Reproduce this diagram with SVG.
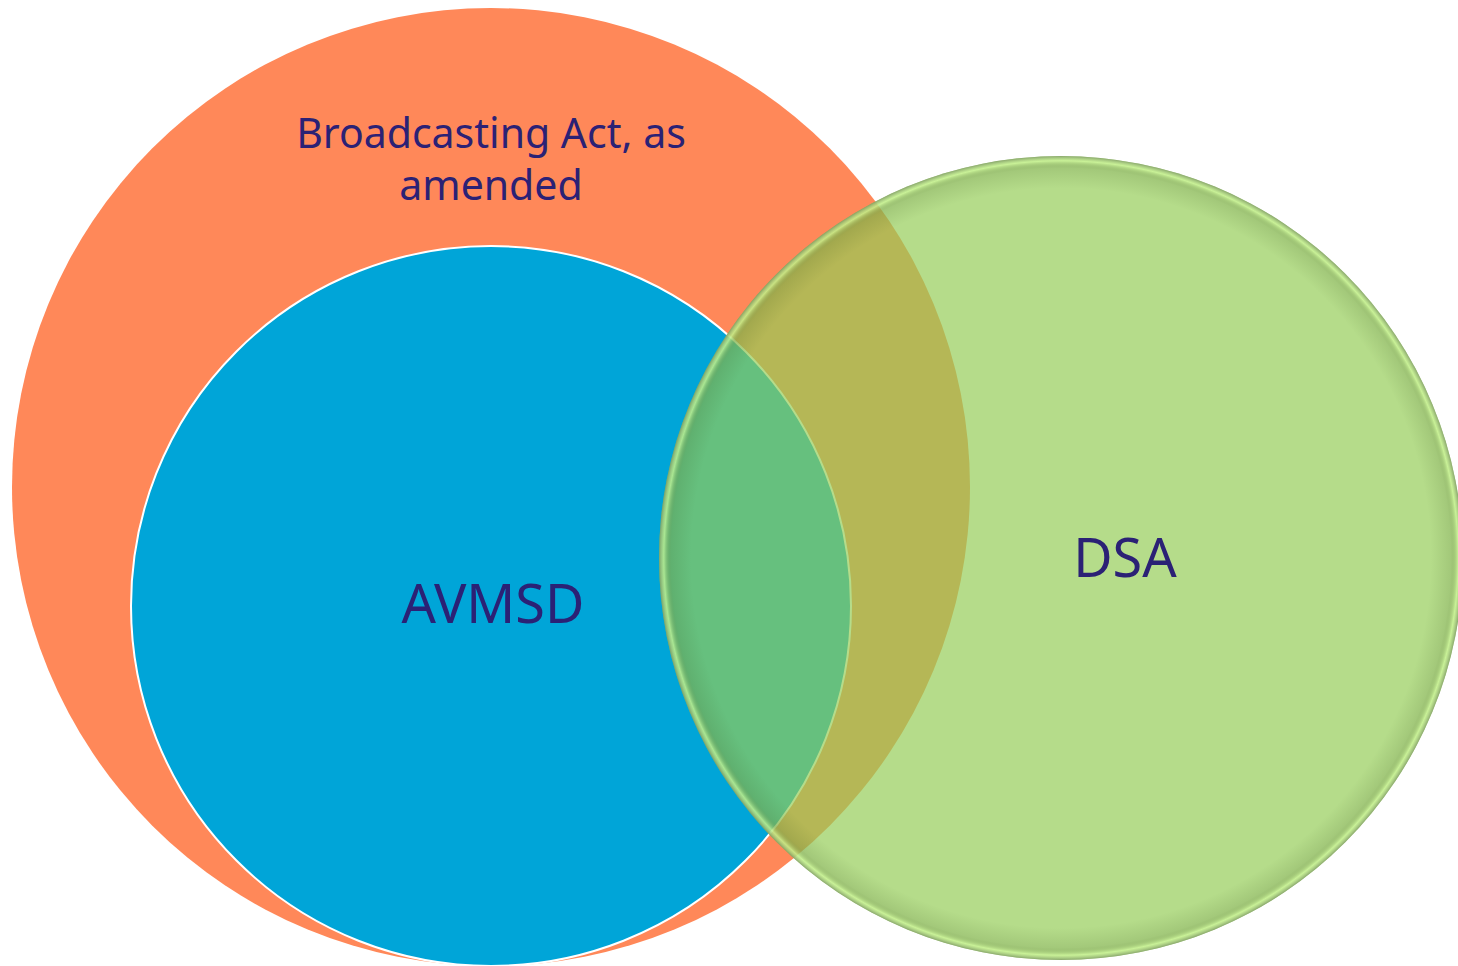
<svg xmlns="http://www.w3.org/2000/svg" width="1458" height="966" viewBox="0 0 1458 966">
  <style>
    .label { font-family: "Noto Sans", "Open Sans", sans-serif; fill: #2B2175; text-anchor: middle; }
  </style>
  <defs>
    <!-- bevelled rim for the translucent green set -->
    <radialGradient id="rim" cx="0.5" cy="0.5" r="0.5">
      <stop offset="0.92" stop-color="#3c5a1e" stop-opacity="0"/>
      <stop offset="0.97" stop-color="#3c5a1e" stop-opacity="0.15"/>
      <stop offset="0.988" stop-color="#d6ffa0" stop-opacity="0.6"/>
      <stop offset="1" stop-color="#7f9a66" stop-opacity="0.8"/>
    </radialGradient>
  </defs>

  <rect width="1458" height="966" fill="#ffffff"/>

  <g id="broadcasting-act">
    <circle cx="491" cy="487" r="479" fill="#FF8859"/>
    <text class="label" x="491" y="148" font-size="41">Broadcasting Act, as</text>
    <text class="label" x="491" y="200" font-size="41">amended</text>
  </g>

  <g id="avmsd">
    <circle cx="491" cy="606" r="360" fill="#00A5D8" stroke="#ffffff" stroke-width="2"/>
    <text class="label" x="493" y="623" font-size="54">AVMSD</text>
  </g>

  <g id="dsa">
    <circle cx="1061" cy="558" r="402" fill="#94CC55" fill-opacity="0.69"/>
    <circle cx="1061" cy="558" r="402" fill="url(#rim)"/>
    <text class="label" x="1125" y="577" font-size="54">DSA</text>
  </g>

  <g id="connectors"/>
</svg>
